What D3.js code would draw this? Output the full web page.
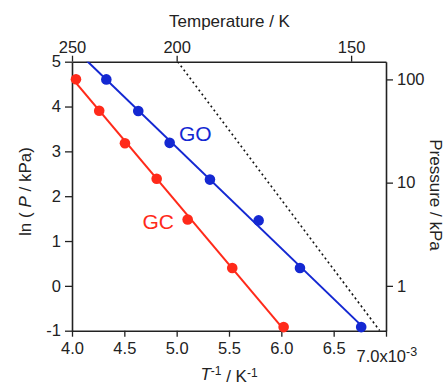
<!DOCTYPE html>
<html>
<head>
<meta charset="utf-8">
<script src="https://cdn.jsdelivr.net/npm/d3@7"></script>
<style>
  html, body { margin: 0; padding: 0; background: #fff; }
  svg { display: block; font-family: "Liberation Sans", Arial, sans-serif; }
  .axis path, .axis line { stroke: #222; }
  .axis text { fill: #222; }
</style>
</head>
<body>
<svg id="chart" width="444" height="385"></svg>
<script>
// ---- data ----
const gcInvT = [4.038, 4.26, 4.506, 4.809, 5.105, 5.531, 6.022];
const gcLnP  = [4.61, 3.906, 3.18, 2.39, 1.48, 0.40, -0.92];
const goInvT = [4.328, 4.633, 4.933, 5.318, 5.783, 6.178, 6.763];
const goLnP  = [4.605, 3.90, 3.19, 2.37, 1.46, 0.40, -0.92];
const refInvT = [5.01, 6.94];
const refLnP  = [5.0, -1.0];
const bottomTicks = [4.0, 4.5, 5.0, 5.5, 6.0, 6.5, 7.0];
const leftTicks = [-1, 0, 1, 2, 3, 4, 5];
const topTicksK = [250, 200, 150];
const rightTicksKPa = [1, 10, 100];
const seriesNames = ["GC", "GO"];
const seriesColors = ["#ff2a1a", "#1428d2"];

// ---- layout ----
const svg = d3.select("#chart");
const L = 72, R = 386, T = 61.7, B = 330.7;
const x = d3.scaleLinear().domain([4.0, 7.0]).range([L, R]);
const y = d3.scaleLinear().domain([-1, 5]).range([B, T]);
const fs = "16.5px";

svg.append("defs").append("clipPath").attr("id", "clip")
  .append("rect").attr("x", L).attr("y", T).attr("width", R - L).attr("height", B - T);

// axes
const gB = svg.append("g").attr("class", "axis").attr("transform", `translate(0,${B})`)
  .call(d3.axisBottom(x).tickValues(bottomTicks).tickSize(6).tickPadding(6).tickSizeOuter(0)
    .tickFormat(d => d.toFixed(1)));
const gT = svg.append("g").attr("class", "axis").attr("transform", `translate(0,${T})`)
  .call(d3.axisTop(x).tickValues(topTicksK.map(k => 1000 / k)).tickSize(6).tickPadding(3).tickSizeOuter(0)
    .tickFormat((d, i) => topTicksK[i]));
const gL = svg.append("g").attr("class", "axis").attr("transform", `translate(${L},0)`)
  .call(d3.axisLeft(y).tickValues(leftTicks).tickSize(7).tickPadding(4).tickSizeOuter(0)
    .tickFormat(d => String(d)));
const gR = svg.append("g").attr("class", "axis").attr("transform", `translate(${R},0)`)
  .call(d3.axisRight(y).tickValues(rightTicksKPa.map(p => Math.log(p))).tickSize(7).tickPadding(4).tickSizeOuter(0)
    .tickFormat((d, i) => rightTicksKPa[i]));

[gB, gT, gL, gR].forEach(g => {
  g.selectAll("path.domain").attr("stroke-width", 1.6);
  g.selectAll("line").attr("stroke-width", 1.3);
  g.selectAll("text").style("font-size", fs).attr("font-family", null);
});

// special last bottom tick label
const last = gB.selectAll(".tick").filter(d => d === 7.0).select("text");
last.text(null).attr("text-anchor", "start").attr("x", -30).attr("dy", "1.15em");
last.append("tspan").text("7.0x10");
last.append("tspan").attr("dy", "-0.45em").style("font-size", "12.5px").text("-3");

// axis titles
svg.append("text").attr("x", 229.5).attr("y", 26.5).attr("text-anchor", "middle")
  .style("font-size", "17px").attr("fill", "#222").text("Temperature / K");

const bt = svg.append("text").attr("x", 229).attr("y", 380).attr("text-anchor", "middle")
  .style("font-size", "17px").attr("fill", "#222");
bt.append("tspan").style("font-style", "italic").text("T");
bt.append("tspan").attr("dy", "-0.45em").style("font-size", "12px").text("-1");
bt.append("tspan").attr("dy", "0.45em").text(" / K");
bt.append("tspan").attr("dy", "-0.45em").style("font-size", "12px").text("-1");

const lt = svg.append("text").attr("transform", "translate(31,191.5) rotate(-90)")
  .attr("text-anchor", "middle").style("font-size", "17px").attr("fill", "#222");
lt.append("tspan").text("ln ( ");
lt.append("tspan").style("font-style", "italic").text("P");
lt.append("tspan").text(" / kPa)");

svg.append("text").attr("transform", "translate(430,195) rotate(90)")
  .attr("text-anchor", "middle").style("font-size", "17px").attr("fill", "#222")
  .text("Pressure / kPa");

// plot content
const plot = svg.append("g");
const clipped = plot.append("g").attr("clip-path", "url(#clip)");

// reference dotted line
clipped.append("path")
  .datum(d3.zip(refInvT, refLnP))
  .attr("d", d3.line().x(d => x(d[0])).y(d => y(d[1])))
  .attr("fill", "none").attr("stroke", "#111").attr("stroke-width", 1.6)
  .attr("stroke-dasharray", "2,3");

function fit(xs, ys) {
  const mx = d3.mean(xs), my = d3.mean(ys);
  let num = 0, den = 0;
  xs.forEach((v, i) => { num += (v - mx) * (ys[i] - my); den += (v - mx) * (v - mx); });
  const b = num / den;
  return { a: my - b * mx, b };
}

const series = [
  { xs: gcInvT, ys: gcLnP },
  { xs: goInvT, ys: goLnP }
];
series.forEach((s, i) => {
  const f = fit(s.xs, s.ys);
  const x0 = 4.0, x1 = d3.max(s.xs);
  clipped.append("path")
    .datum([[x0, f.a + f.b * x0], [x1, f.a + f.b * x1]])
    .attr("d", d3.line().x(d => x(d[0])).y(d => y(d[1])))
    .attr("fill", "none").attr("stroke", seriesColors[i]).attr("stroke-width", 2);
  plot.selectAll(null).data(d3.zip(s.xs, s.ys)).enter().append("circle")
    .attr("cx", d => x(d[0])).attr("cy", d => y(d[1])).attr("r", 5.3)
    .attr("fill", seriesColors[i]);
});

// series labels
svg.append("text").attr("x", 179).attr("y", 140.5).style("font-size", "21px")
  .attr("fill", seriesColors[1]).text(seriesNames[1]);
svg.append("text").attr("x", 142.5).attr("y", 229).style("font-size", "21px")
  .attr("fill", seriesColors[0]).text(seriesNames[0]);
</script>
</body>
</html>
